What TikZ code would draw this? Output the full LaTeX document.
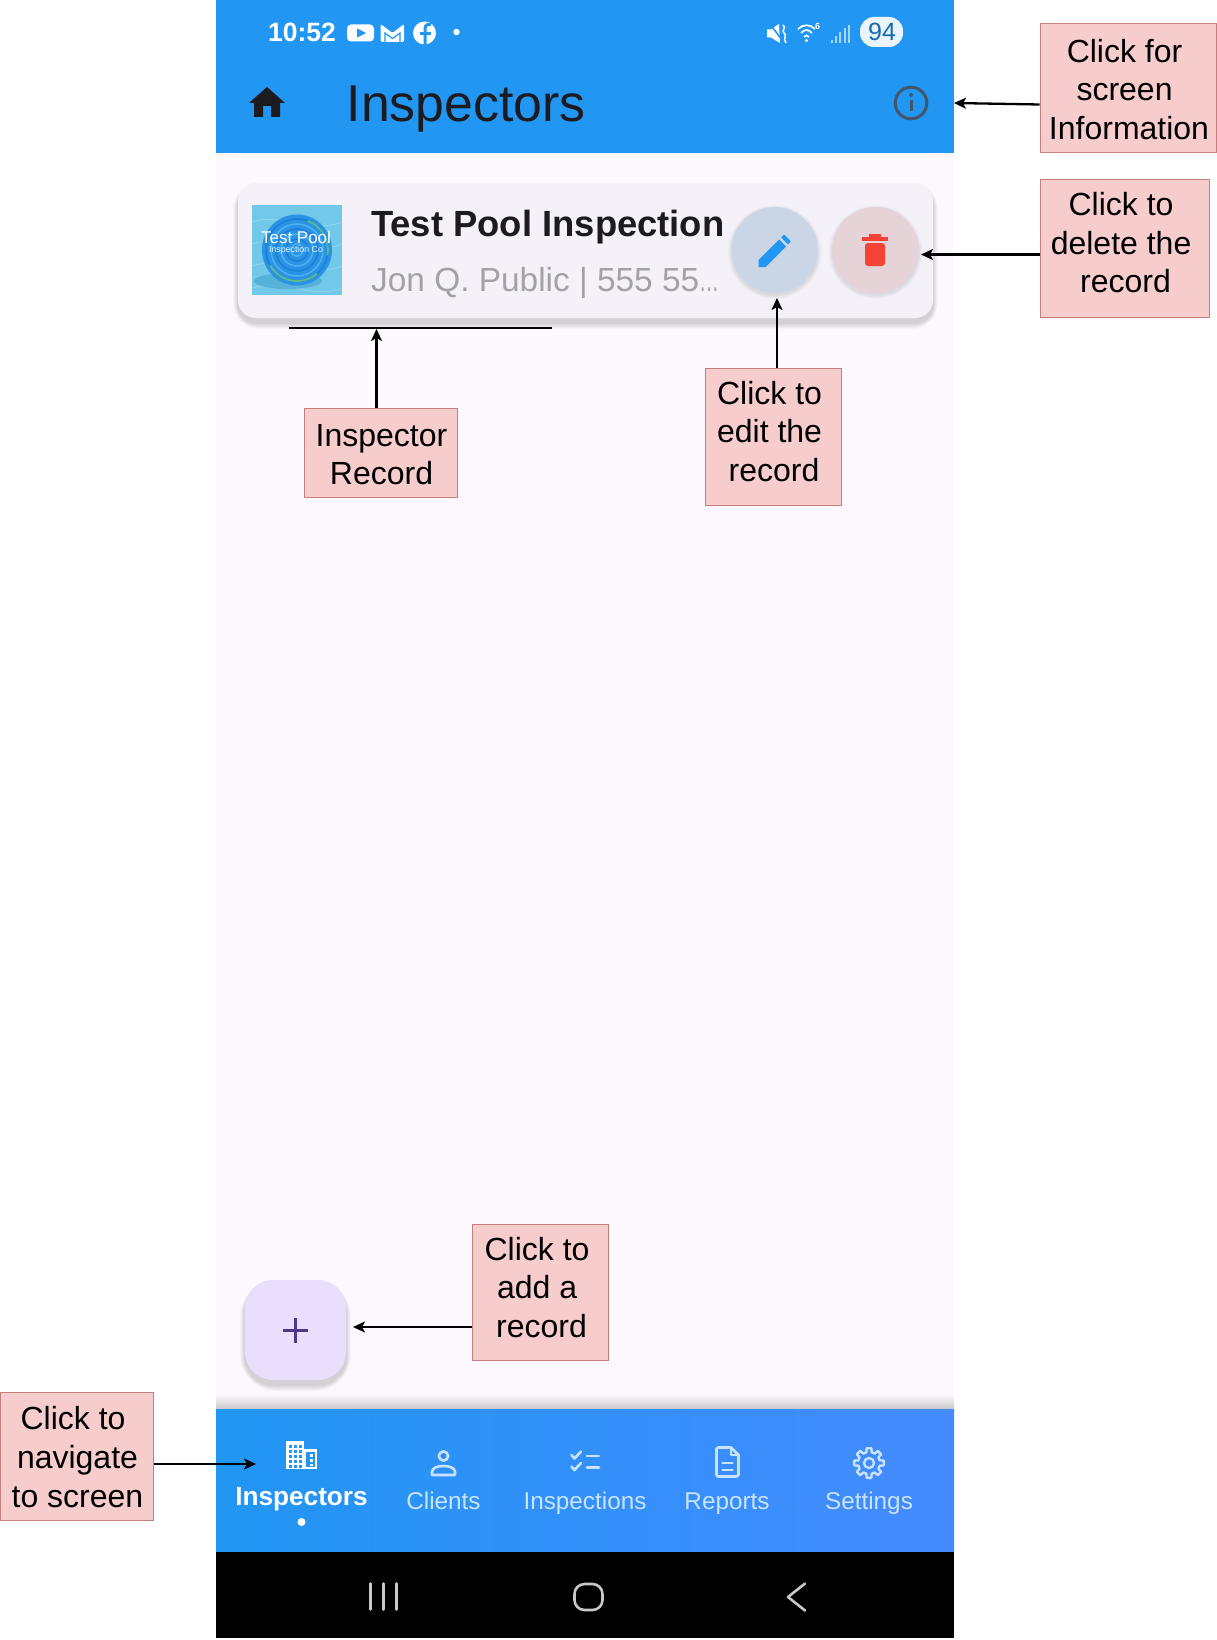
\documentclass[tikz,border=0pt]{standalone}
\usepackage{graphicx}
\usepackage{fontspec}
\setmainfont{Liberation Sans}
\usetikzlibrary{arrows.meta}
\definecolor{appblue}{HTML}{2196F3}
\definecolor{navright}{HTML}{448AFF}
\definecolor{bodybg}{HTML}{FDF7FE}
\definecolor{cardbg}{HTML}{F5F1F8}
\definecolor{noteFill}{HTML}{F6CCCC}
\definecolor{noteLine}{HTML}{C47F7C}
\definecolor{inkdark}{HTML}{1C1B1F}
\definecolor{subgray}{HTML}{A3A1A6}
\definecolor{navpale}{HTML}{C9E3FC}
\definecolor{fabfill}{HTML}{E9DEFC}
\definecolor{fabink}{HTML}{4F378B}
\definecolor{infoink}{HTML}{425668}
\definecolor{softkey}{HTML}{C8C8C8}
\definecolor{editbg}{HTML}{CAD6E6}
\definecolor{delbg}{HTML}{E5D3D8}
\definecolor{trash}{HTML}{F44336}
\definecolor{logobg}{HTML}{72C8E8}
\definecolor{logoshade}{HTML}{4AA8D0}
\definecolor{logodisc}{HTML}{2A93E6}
\definecolor{ringdark}{HTML}{1A7FD6}
\definecolor{ringpale}{HTML}{4FB0F0}
\definecolor{ringgreen}{HTML}{5DBB8A}
\newcommand{\tsp}{\rule{0.278em}{0pt}}
\newcommand{\softrect}[6]{%
  \foreach \i in {1,...,8}{
    \fill[black,opacity=#6,rounded corners=#5pt+\i pt]
      (#1-\i*0.6,#2-\i*0.6+5) rectangle (#3+\i*0.6,#4+\i*0.75+5);
  }}
\newcommand{\softdisc}[4]{%
  \foreach \i in {1,...,8}{
    \fill[black,opacity=#4] (#1,#2+2) circle[radius=#3pt+\i pt*0.5];
  }}
\tikzset{
  note/.style={draw=noteLine,line width=1pt,fill=noteFill,inner sep=0pt},
  notetext/.style={inner sep=0pt,align=center,font=\fontsize{32}{38.6}\selectfont,text=black},
  conn/.style={draw=black,line width=2.3pt,-{Stealth[length=12pt,width=11pt,inset=3pt]}},
  txt/.style={inner sep=0pt,anchor=base west},
  navlabel/.style={inner sep=0pt,anchor=base,text=navpale,font=\fontsize{24.3}{24}\selectfont},
  navicon/.style={draw=navpale,line width=2.6pt,line join=round,line cap=round},
  softbar/.style={draw=softkey,line width=2.6pt,line cap=round,line join=round},
  stat/.style={fill=white,draw=none}
}
\begin{document}
\begin{tikzpicture}[x=1pt,y=-1pt]
\useasboundingbox (0,0) rectangle (1217,1640);
\fill[white] (0,0) rectangle (1217,1640);
% screen
\fill[bodybg] (216,153) rectangle (954,1409);
\fill[appblue] (216,0) rectangle (954,153);
% status bar
\node[txt,text=white,font=\fontsize{26.5}{26}\selectfont\bfseries] (clock) at (268,42) {10:52};
\fill[stat,rounded corners=4pt] (347,24.5) rectangle (374,41.5);
\fill[appblue] (357,28.5) -- (366,33) -- (357,37.5) -- cycle;
\fill[stat,rounded corners=1.5pt] (380.5,24) -- (392.5,33) -- (404,24) -- (404,42) -- (380.5,42) -- cycle;
\draw[appblue,line width=1.2pt] (385,42) -- (385,33) -- (392.5,38.5) -- (400,33) -- (400,42);
\fill[stat] (424.5,33) circle[radius=11.5pt];
\draw[appblue,line width=3pt] (431,24.5) .. controls (425,23.5) and (425,27) .. (425,31) -- (425,45);
\draw[appblue,line width=3pt] (420,34) -- (431,34);
\fill[stat] (456.5,32) circle[radius=3.2pt];
% mute, wifi, signal, battery
\fill[stat] (767,29.5) -- (771,29.5) -- (779,24) -- (780,43) -- (771,37.5) -- (767,37.5) -- cycle;
\draw[appblue,line width=1.6pt] (770,24) -- (782,40);
\draw[white,line width=1.5pt] (783,25) .. controls (787,28) and (781,30) .. (784,33) .. controls (788,36) and (782,38) .. (786,43);
\draw[white,line width=1.7pt] (798,29) .. controls (803,24) and (810,24) .. (815,29);
\draw[white,line width=1.7pt] (801,33) .. controls (805,29) and (808,29) .. (812,33);
\draw[white,line width=1.7pt] (804,37) .. controls (806,35) and (807,35) .. (809,37);
\fill[stat] (806.5,40.5) circle[radius=1.6pt];
\node[inner sep=0pt,text=white,font=\fontsize{9}{9}\selectfont\bfseries] (wifisix) at (817.5,26.5) {6};
\foreach \k/\t in {0/40,1/36,2/32,3/28,4/25}{
  \fill[white,opacity=.6] (831+\k*4.2,\t) rectangle (833+\k*4.2,43);
}
\fill[white,opacity=.9,rounded corners=14pt] (860,17) rectangle (903,47);
\node[inner sep=0pt,text=appblue!70!black,font=\fontsize{25}{25}\selectfont] (battery) at (882,32) {94};
% app bar
\fill[inkdark] (267,87) -- (249,103) -- (254,103) -- (254,117) -- (263,117) -- (263,106) -- (271,106) -- (271,117) -- (280,117) -- (280,103) -- (285,103) -- cycle;
\node[txt,text=inkdark,font=\fontsize{51.8}{52}\selectfont] (apptitle) at (346.5,121.7) {Inspectors};
\draw[infoink,line width=3pt] (911,103) circle[radius=15.8pt];
\fill[infoink] (911,95) circle[radius=2pt];
\draw[infoink,line width=3pt] (911,100) -- (911,111);
% card
\softrect{238}{183}{933}{318}{18}{.02}
\fill[cardbg,rounded corners=18pt] (238,183) rectangle (933,318);
% logo
\fill[logobg] (252,205) rectangle (342,295);
\foreach \s in {0,1,2,3}{
  \draw[white,opacity=.2,line width=1pt] (252,222+\s*22) .. controls (280,212+\s*22) and (312,234+\s*22) .. (342,222+\s*22);
}
\fill[logoshade,opacity=.7] (288,281) ellipse[x radius=34pt,y radius=8pt];
\fill[logodisc] (297,250) ellipse[x radius=35pt,y radius=35.5pt];
\foreach \r/\c in {31/ringdark,26/ringpale,21/ringdark,16/ringpale,11/ringdark,6/ringpale}{
  \draw[\c,line width=1.5pt] (297,250) circle[radius=\r];
}
\draw[ringgreen,line width=1.8pt] (297,250) ++(-70:31) arc[start angle=-70,end angle=10,radius=31];
\draw[ringgreen,line width=1.8pt] (297,250) ++(50:31) arc[start angle=50,end angle=150,radius=31];
\node[inner sep=0pt,text=white,font=\fontsize{17}{17}\selectfont,anchor=base] (logoa) at (296,243.5) {Test Pool};
\node[inner sep=0pt,text=white!88!cyan,font=\fontsize{8.8}{9}\selectfont,anchor=base] (logob) at (296,252.5) {Inspection Co};
% card text
\node[txt,text=inkdark,font=\fontsize{36.4}{36}\selectfont\bfseries] (rectitle) at (371,236) {Test Pool Inspection};
\node[txt,text=subgray,font=\fontsize{33.4}{33}\selectfont] (recsub) at (371,291) {Jon Q. Public | 555 55\scalebox{.6}[1]{…}};
% buttons
\softdisc{774.6}{250}{43}{.01}
\softdisc{875.5}{250}{43}{.01}
\fill[editbg] (774.6,250) circle[radius=43pt];
\fill[delbg] (875.5,250) circle[radius=43pt];
\fill[appblue] (758.5,267) -- (758.5,260) -- (779,239.5) -- (786,246.5) -- (765.5,267) -- cycle;
\fill[appblue,rounded corners=1pt] (781,237.5) -- (784,234.5) -- (791,241.5) -- (788,244.5) -- cycle;
\fill[trash] (869,234) rectangle (881,238);
\fill[trash] (862,237) rectangle (888,240.5);
\fill[trash,rounded corners=3pt] (865,243) -- (885,243) -- (885,266) -- (865,266) -- cycle;
% fab
\softrect{245}{1280}{346}{1380}{28}{.02}
\fill[fabfill,rounded corners=28pt] (245,1280) rectangle (346,1380);
\draw[fabink,line width=3pt] (283,1330.5) -- (308,1330.5) (295.5,1318) -- (295.5,1343);
% nav
\shade[top color=bodybg,bottom color=black!22] (216,1395) rectangle (954,1409);
\shade[left color=appblue,right color=navright] (216,1409) rectangle (954,1552);
\fill[black] (216,1552) rectangle (954,1638);
% building
\fill[white] (286,1441) rectangle (304,1469);
\fill[white] (304,1449) rectangle (317,1469);
\foreach \cx in {289,294,299}{\foreach \cy in {1445,1450,1455,1460,1465}{
  \fill[appblue] (\cx,\cy) rectangle (\cx+2.5,\cy+2.5);
}}
\fill[appblue] (305.5,1452) rectangle (315,1466.5);
\foreach \cy in {1454,1459,1463.5}{\fill[white] (310,\cy) rectangle (312.5,\cy+2.5);}
% person
\draw[navicon] (443.5,1456) circle[radius=4.6pt];
\draw[navicon] (432,1475) -- (432,1472) .. controls (432,1468) and (437,1466) .. (443.5,1466) .. controls (450,1466) and (455,1468) .. (455,1472) -- (455,1475) -- cycle;
% checklist
\draw[navicon] (571.5,1455) -- (574.5,1458.5) -- (581,1451.5);
\draw[navicon] (571.5,1466.5) -- (574.5,1470) -- (581,1463);
\draw[navicon] (587,1456) -- (599,1456) (587,1467.5) -- (599,1467.5);
% doc
\draw[navicon] (718,1447.5) -- (731,1447.5) -- (738.5,1455) -- (738.5,1475) -- (736.5,1476.5) -- (718,1476.5) -- (716.5,1475) -- (716.5,1449) -- cycle;
\draw[navicon] (731,1447.5) -- (731,1455) -- (738.5,1455);
\draw[navicon] (722.5,1463) -- (732.5,1463) (722.5,1470) -- (732.5,1470);
% gear
\begin{scope}[shift={(869,1463)}]
\draw[navicon,line width=2.4pt] (-14:11) \foreach \a in {0,45,...,315}{ -- (\a-14:11) -- (\a-9:15) -- (\a+9:15) -- (\a+14:11) } -- cycle;
\draw[navicon,line width=2.4pt] (0,0) circle[radius=5pt];
\end{scope}
% nav labels
\node[inner sep=0pt,anchor=base,text=white,font=\fontsize{26.2}{26}\selectfont\bfseries] (navinsp) at (301.5,1505) {Inspectors};
\node[navlabel] (navcli) at (443.5,1509) {Clients};
\node[navlabel] (navins) at (585,1509) {Inspections};
\node[navlabel] (navrep) at (727,1509) {Reports};
\node[navlabel] (navset) at (869,1509) {Settings};
\fill[white] (301.5,1522) circle[radius=4pt];
% soft keys
\draw[softbar] (370.5,1583.5) -- (370.5,1609.5) (383.5,1583.5) -- (383.5,1609.5) (396.5,1583.5) -- (396.5,1609.5);
\draw[softbar,rounded corners=10pt] (574.5,1584) rectangle (602.5,1610);
\draw[softbar] (805,1583.5) -- (788,1597) -- (805,1610.5);
% notes
\node[note,minimum width=176pt,minimum height=129pt] (noteinfo) at (1128,88.5) {};
\node[notetext] (noteinfot) at ([xshift=1pt,yshift=-1pt]noteinfo.center) {Click for\tsp\\screen\tsp\\Information};
\node[note,minimum width=169pt,minimum height=137pt] (notedel) at (1124.5,248.5) {};
\node[notetext] (notedelt) at ([xshift=1pt,yshift=5.7pt]notedel.center) {Click to\tsp\\delete the\tsp\\record};
\node[note,minimum width=136pt,minimum height=137pt] (noteedit) at (773,436.5) {};
\node[notetext] (noteeditt) at ([xshift=1pt,yshift=5.2pt]noteedit.center) {Click to\tsp\\edit the\tsp\\record};
\node[note,minimum width=153pt,minimum height=89pt] (noterec) at (380.5,452.5) {};
\node[notetext] (noterect) at ([xshift=1pt,yshift=-2pt]noterec.center) {Inspector\\Record};
\node[note,minimum width=136pt,minimum height=136pt] (noteadd) at (540.5,1292) {};
\node[notetext] (noteaddt) at ([xshift=1pt,yshift=4.5pt]noteadd.center) {Click to\tsp\\add a\tsp\\record};
\node[note,minimum width=153pt,minimum height=128pt] (notenav) at (76.5,1456) {};
\node[notetext] (notenavt) at ([xshift=1pt,yshift=-1pt]notenav.center) {Click to\tsp\\navigate\\to screen};
% connector ends
\coordinate (infotip) at (954,103);
\coordinate (deltip) at (921,254.5);
\coordinate (edittip) at (777,298);
\coordinate (rectip) at (376.5,329);
\coordinate (addtip) at (353,1327);
\coordinate (navtip) at (256,1464);
\coordinate (underA) at (288.5,328);
\coordinate (underB) at (552,328);
\draw[black,line width=2.5pt] (underA) -- (underB);
\draw[conn] ([yshift=-16pt]noteinfo.west) -- (infotip);
\draw[conn] ([yshift=-6pt]notedel.west) -- (deltip);
\draw[conn] ([xshift=4pt]noteedit.north) -- (edittip);
\draw[conn] ([xshift=-4pt]noterec.north) -- (rectip);
\draw[conn] ([yshift=-35pt]noteadd.west) -- (addtip);
\draw[conn] ([yshift=-8pt]notenav.east) -- (navtip);
\end{tikzpicture}
\end{document}
